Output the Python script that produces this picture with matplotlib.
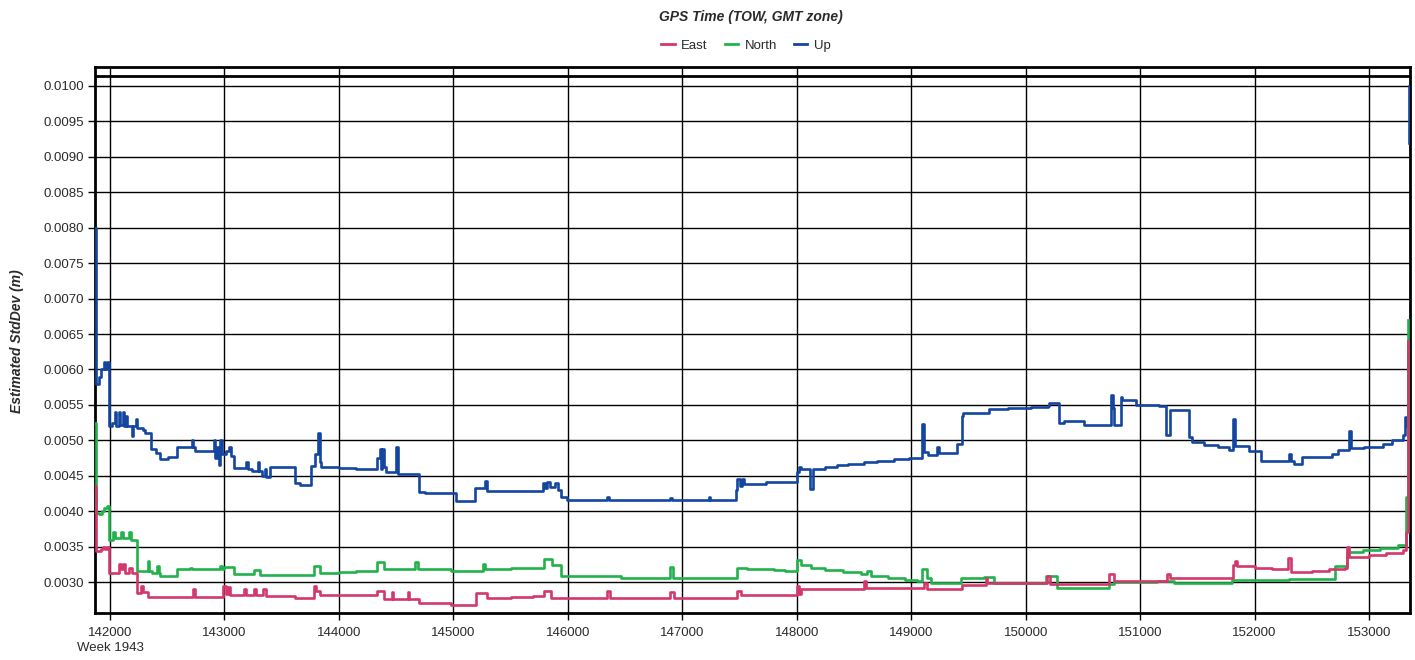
import numpy as np
import matplotlib
matplotlib.use('Agg')
import matplotlib.pyplot as plt
from matplotlib.lines import Line2D

plt.rcParams['font.family'] = ['Liberation Sans', 'DejaVu Sans']

# GPS time of week (s) and estimated std dev (m), one level per step
up_t = [141870, 141874, 141900, 141925, 141945, 141960, 141970, 141992, 142020, 142040,
        142050, 142075, 142085, 142110, 142120, 142140, 142150, 142190, 142200, 142230,
        142240, 142290, 142310, 142359, 142400, 142438, 142511, 142584, 142715, 142725,
        142745, 142905, 142915, 142935, 142950, 142965, 142980, 143010, 143040, 143055,
        143080, 143190, 143205, 143241, 143290, 143300, 143329, 143350, 143365, 143400,
        143620, 143660, 143752, 143790, 143815, 143835, 143845, 144000, 144150, 144336,
        144355, 144365, 144380, 144395, 144409, 144500, 144512, 144700, 144750, 145020,
        145186, 145275, 145290, 145780, 145800, 145820, 145840, 145890, 145910, 145938,
        145996, 146340, 146360, 146895, 146910, 147230, 147245, 147467, 147480, 147500,
        147520, 147540, 147729, 148005, 148020, 148035, 148117, 148143, 148250, 148350,
        148450, 148588, 148700, 148850, 148980, 149095, 149110, 149150, 149225, 149240,
        149404, 149440, 149450, 149681, 149850, 150050, 150191, 150205, 150292, 150336,
        150511, 150744, 150760, 150773, 150831, 150846, 150962, 151166, 151224, 151259,
        151428, 151457, 151560, 151680, 151780, 151815, 151830, 151950, 152052, 152305,
        152320, 152341, 152413, 152673, 152730, 152825, 152840, 152960, 153121, 153200,
        153295, 153310, 153325, 153332, 153340, 153342, 153345, 153347]
up_v = [0.0080, 0.0058, 0.0059, 0.0060, 0.0061, 0.0060, 0.0061, 0.0052, 0.00525, 0.0054,
        0.0052, 0.0054, 0.00522, 0.0054, 0.0052, 0.00535, 0.0052, 0.00506, 0.0052, 0.0053,
        0.00518, 0.00515, 0.0051, 0.00488, 0.00482, 0.00473, 0.00477, 0.0049, 0.0050, 0.0049,
        0.00485, 0.0050, 0.00475, 0.0049, 0.00465, 0.0050, 0.0048, 0.00485, 0.0049, 0.00478,
        0.00461, 0.0047, 0.0046, 0.00456, 0.0047, 0.00456, 0.0045, 0.0046, 0.00448, 0.00463,
        0.0044, 0.00437, 0.00464, 0.0048, 0.00511, 0.0047, 0.00463, 0.00461, 0.0046, 0.00475,
        0.00488, 0.0046, 0.00488, 0.00462, 0.00455, 0.00491, 0.00453, 0.00427, 0.00425, 0.00414,
        0.00432, 0.00443, 0.00428, 0.0044, 0.00432, 0.00441, 0.00434, 0.0044, 0.0043, 0.0042,
        0.00416, 0.0042, 0.00416, 0.00419, 0.00416, 0.0042, 0.00416, 0.0043, 0.00445, 0.00435,
        0.00445, 0.00439, 0.00441, 0.00455, 0.00462, 0.0046, 0.00431, 0.0046, 0.00462, 0.00465,
        0.00467, 0.00469, 0.00471, 0.00473, 0.00475, 0.00523, 0.00483, 0.00479, 0.0049, 0.00482,
        0.00495, 0.00535, 0.00539, 0.00544, 0.00545, 0.00547, 0.00548, 0.00552, 0.00524, 0.00527,
        0.00521, 0.00564, 0.00545, 0.00521, 0.00561, 0.00557, 0.0055, 0.00548, 0.00507, 0.00543,
        0.00505, 0.00498, 0.00494, 0.0049, 0.00486, 0.0053, 0.00492, 0.00485, 0.00471, 0.0048,
        0.00471, 0.00466, 0.00477, 0.00481, 0.00486, 0.00513, 0.00489, 0.00491, 0.00495, 0.00501,
        0.00507, 0.00533, 0.0052, 0.0053, 0.0064, np.nan, 0.0092, 0.0100]

north_t = [141870, 141874, 141900, 141930, 141950, 141970, 141994, 142030, 142040, 142100,
           142110, 142170, 142185, 142234, 142330, 142345, 142365, 142415, 142430, 142438,
           142584, 142700, 142720, 142960, 142980, 142993, 143080, 143255, 143314, 143781,
           143839, 144000, 144150, 144336, 144394, 144665, 144690, 144977, 145260, 145280,
           145500, 145792, 145865, 145938, 145996, 146462, 146895, 146915, 147481, 147569,
           147800, 147900, 148005, 148035, 148122, 148250, 148400, 148560, 148610, 148647,
           148800, 148950, 149050, 149098, 149142, 149171, 149433, 149637, 149724, 150176,
           150278, 150729, 150773, 151151, 151297, 151800, 152300, 152700, 152808, 152950,
           153100, 153250, 153325, 153344]
north_v = [0.00524, 0.00398, 0.00396, 0.0040, 0.00405, 0.00407, 0.0036, 0.0037, 0.00362, 0.0037,
           0.00362, 0.0037, 0.0036, 0.00316, 0.0033, 0.00316, 0.00313, 0.00323, 0.00313, 0.00308,
           0.00318, 0.0032, 0.00318, 0.00322, 0.00318, 0.00321, 0.00311, 0.00317, 0.0031, 0.00323,
           0.00313, 0.00314, 0.00316, 0.00328, 0.00319, 0.00328, 0.00319, 0.00316, 0.00325, 0.00318,
           0.0032, 0.00332, 0.00324, 0.00309, 0.00308, 0.00305, 0.00321, 0.00306, 0.0032, 0.00319,
           0.00317, 0.00315, 0.00331, 0.00324, 0.0032, 0.00317, 0.00314, 0.00311, 0.00316, 0.00309,
           0.00306, 0.00303, 0.00301, 0.00318, 0.00305, 0.00299, 0.00306, 0.00307, 0.00299, 0.00309,
           0.00292, 0.00297, 0.0030, 0.00301, 0.00298, 0.00303, 0.00304, 0.00323, 0.00342, 0.00345,
           0.00348, 0.00352, 0.0042, 0.0067]

east_t = [141870, 141874, 141880, 141920, 141940, 141960, 141975, 141994, 142080, 142100,
          142115, 142135, 142170, 142190, 142234, 142270, 142290, 142336, 142725, 142740,
          142990, 143010, 143030, 143050, 143170, 143185, 143260, 143275, 143340, 143360,
          143620, 143781, 143800, 143839, 144336, 144394, 144460, 144475, 144600, 144615,
          144700, 144977, 145195, 145297, 145500, 145700, 145792, 145851, 146340, 146370,
          146895, 146930, 147475, 147510, 148005, 148020, 148035, 148588, 148605, 149113,
          149135, 149448, 149651, 149665, 150190, 150210, 150729, 150773, 151239, 151260,
          151813, 151830, 151845, 152000, 152150, 152290, 152315, 152500, 152650, 152790,
          152805, 152825, 153000, 153150, 153300, 153325, 153342]
east_v = [0.00435, 0.00375, 0.00344, 0.00347, 0.0035, 0.00346, 0.0035, 0.00313, 0.00326, 0.00318,
          0.00326, 0.00313, 0.0032, 0.00313, 0.00284, 0.00295, 0.00286, 0.00279, 0.0029, 0.00279,
          0.00295, 0.00283, 0.00293, 0.00282, 0.0029, 0.00282, 0.0029, 0.00282, 0.0029, 0.0028,
          0.00277, 0.00295, 0.00288, 0.00282, 0.00288, 0.00276, 0.00286, 0.00276, 0.00286, 0.00276,
          0.0027, 0.00268, 0.00284, 0.00277, 0.00279, 0.0028, 0.00287, 0.00277, 0.00288, 0.00277,
          0.00286, 0.00277, 0.00288, 0.00281, 0.00294, 0.00283, 0.0029, 0.00301, 0.00291, 0.00299,
          0.0029, 0.00296, 0.00306, 0.00299, 0.00308, 0.00297, 0.00311, 0.00302, 0.00311, 0.00305,
          0.00324, 0.0033, 0.00322, 0.0032, 0.00318, 0.00334, 0.00314, 0.00316, 0.00318, 0.0032,
          0.00349, 0.00335, 0.00338, 0.00341, 0.00345, 0.0037, 0.0064]

x_ticks = list(range(142000, 153001, 1000))
y_ticks = [round(0.0030 + 0.0005 * i, 4) for i in range(15)]

c_east = '#d2386a'
c_north = '#22b24c'
c_up = '#1446a0'


def main():
    fig = plt.figure(figsize=(14.15, 6.6), dpi=100)
    ax = fig.add_axes([95 / 1415, 1 - 613 / 660, 1315 / 1415, 546 / 660])

    for y in y_ticks:
        ax.axhline(y, color='black', lw=1.0, zorder=1)
    for x in x_ticks:
        ax.axvline(x, color='black', lw=1.0, zorder=1)
    ax.axhline(0.010141, color='black', lw=2.0, zorder=1)

    ax.plot(up_t, up_v, drawstyle='steps-post', color=c_up, lw=1.9, zorder=3)
    ax.plot(north_t, north_v, drawstyle='steps-post', color=c_north, lw=1.9, zorder=4)
    ax.plot(east_t, east_v, drawstyle='steps-post', color=c_east, lw=1.9, zorder=5)

    ax.set_xlim(141869, 153358)
    ax.set_ylim(0.002563, 0.010268)

    ax.set_xticks(x_ticks)
    labels = [str(x) for x in x_ticks]
    labels[0] = '142000\nWeek 1943'
    ax.set_xticklabels(labels, linespacing=1.3)
    ax.set_yticks(y_ticks)
    ax.set_yticklabels(['%.4f' % y for y in y_ticks])
    ax.tick_params(direction='out', length=5, width=1, colors='black',
                   labelsize=9.5, labelcolor='#2a2a2a', pad=3)
    ax.tick_params(axis='x', pad=5)

    for sp in ax.spines.values():
        sp.set_linewidth(2.0)
        sp.set_color('black')

    fig.text(751 / 1415, 1 - 17 / 660, 'GPS Time (TOW, GMT zone)', ha='center', va='center',
             fontsize=10, fontweight='bold', fontstyle='italic', color='#2a2a2a')
    fig.text(17 / 1415, 1 - 341 / 660, 'Estimated StdDev (m)', ha='center', va='center',
             rotation=90, fontsize=10, fontweight='bold', fontstyle='italic', color='#2a2a2a')

    handles = [Line2D([], [], color=c_east, lw=2),
               Line2D([], [], color=c_north, lw=2),
               Line2D([], [], color=c_up, lw=2)]
    fig.legend(handles, ['East', 'North', 'Up'], loc='center', bbox_to_anchor=(746 / 1415, 1 - 46 / 660),
               ncol=3, frameon=False, fontsize=9.5, handlelength=1.0, handletextpad=0.5,
               columnspacing=1.3, labelcolor='#2a2a2a')

    fig.savefig('out.png', dpi=100)


if __name__ == "__main__":
    main()
